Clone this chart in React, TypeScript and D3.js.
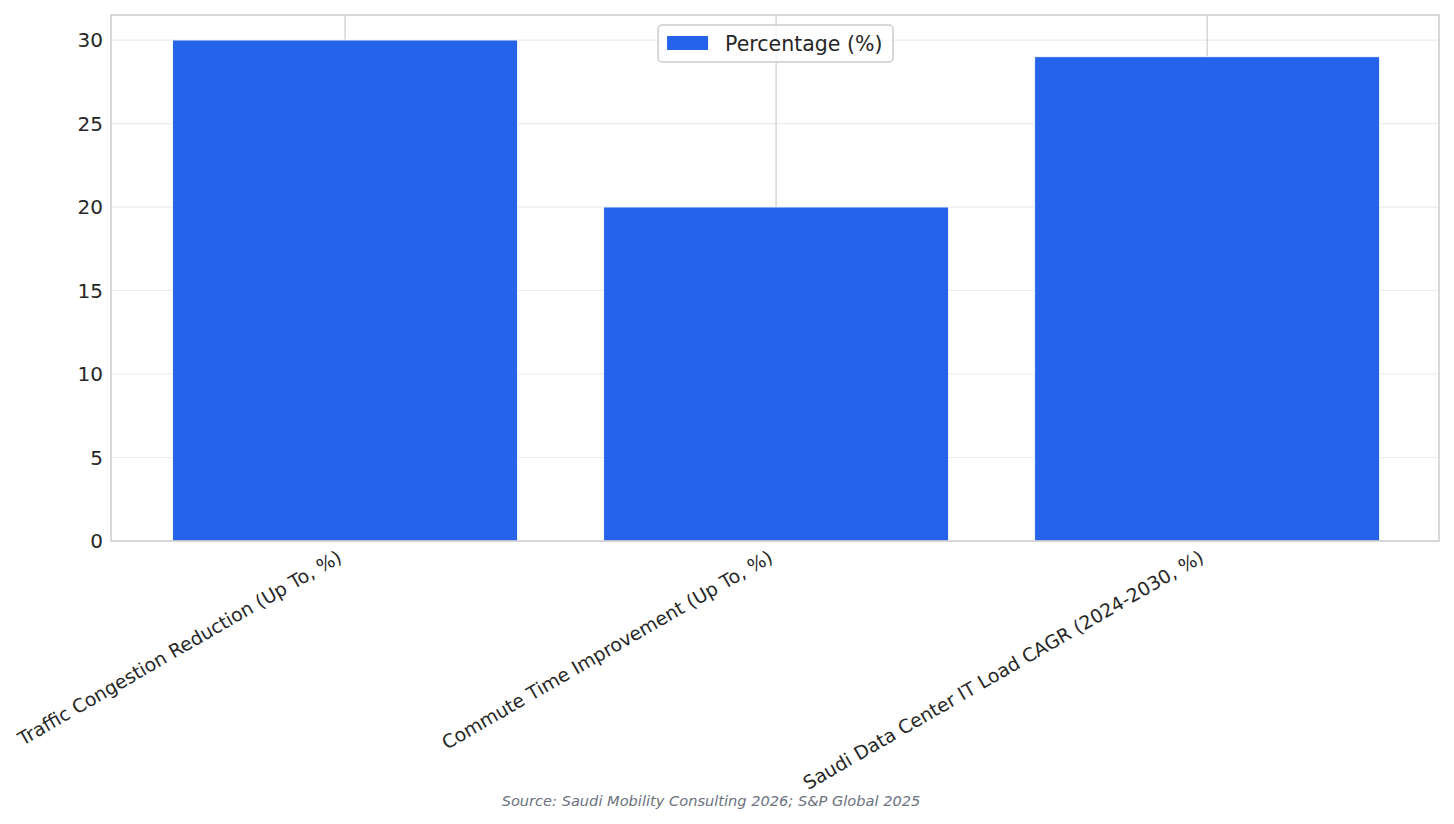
import React, { useEffect, useRef } from 'react';
import * as d3 from 'd3';

const categories = [
  'Traffic Congestion Reduction (Up To, %)',
  'Commute Time Improvement (Up To, %)',
  'Saudi Data Center IT Load CAGR (2024-2030, %)',
];
const values = [30, 20, 29];
const yTicks = [0, 5, 10, 15, 20, 25, 30];
const seriesName = 'Percentage (%)';
const sourceNote = 'Source: Saudi Mobility Consulting 2026; S&P Global 2025';

const W = 1454;
const H = 824;
const margin = { top: 15, right: 15, bottom: 283, left: 111 };
const font = 'DejaVu Sans, sans-serif';

const App = () => {
  const ref = useRef<SVGSVGElement>(null);

  useEffect(() => {
    const svg = d3.select(ref.current);
    svg.selectAll('*').remove();

    const width = W - margin.left - margin.right;
    const height = H - margin.top - margin.bottom;

    const x = d3.scaleLinear().domain([-0.543, categories.length - 1 + 0.538]).range([0, width]);
    const y = d3.scaleLinear().domain([0, 31.5]).range([height, 0]);
    const barW = x(0.4) - x(0);

    const g = svg.append('g').attr('transform', `translate(${margin.left},${margin.top})`);

    // horizontal grid
    g.selectAll('.hgrid')
      .data(yTicks)
      .enter()
      .append('line')
      .attr('x1', 0)
      .attr('x2', width)
      .attr('y1', (d) => y(d))
      .attr('y2', (d) => y(d))
      .attr('stroke', '#ebebeb')
      .attr('stroke-width', 1.2);

    // vertical grid at categories
    g.selectAll('.vgrid')
      .data(categories)
      .enter()
      .append('line')
      .attr('x1', (_d, i) => x(i))
      .attr('x2', (_d, i) => x(i))
      .attr('y1', 0)
      .attr('y2', height)
      .attr('stroke', '#cccccc')
      .attr('stroke-width', 1.2);

    g.selectAll('.bar')
      .data(values)
      .enter()
      .append('rect')
      .attr('x', (_d, i) => x(i) - barW)
      .attr('width', barW * 2)
      .attr('y', (d) => y(d))
      .attr('height', (d) => height - y(d))
      .attr('fill', '#2563eb')
      .attr('stroke', 'white')
      .attr('stroke-width', 0.8);

    // frame
    g.append('rect')
      .attr('x', 0)
      .attr('y', 0)
      .attr('width', width)
      .attr('height', height)
      .attr('fill', 'none')
      .attr('stroke', '#cccccc')
      .attr('stroke-width', 1.5);

    // y tick labels
    g.selectAll('.ytick')
      .data(yTicks)
      .enter()
      .append('text')
      .attr('x', -8)
      .attr('y', (d) => y(d))
      .attr('dy', '0.35em')
      .attr('text-anchor', 'end')
      .attr('font-family', font)
      .attr('font-size', 20)
      .attr('fill', '#262626')
      .text((d) => d);

    // x tick labels
    g.selectAll('.xtick')
      .data(categories)
      .enter()
      .append('text')
      .attr('transform', (_d, i) => `translate(${x(i) - 2},${height + 20}) rotate(-30)`)
      .attr('text-anchor', 'end')
      .attr('font-family', font)
      .attr('font-size', 18.8)
      .attr('fill', '#262626')
      .text((d) => d);

    // legend
    const lg = g.append('g').attr('transform', `translate(${x(1) - 118},10)`);
    lg.append('rect')
      .attr('width', 235)
      .attr('height', 37)
      .attr('rx', 4)
      .attr('fill', 'white')
      .attr('fill-opacity', 0.8)
      .attr('stroke', '#cccccc')
      .attr('stroke-width', 1.5);
    lg.append('rect').attr('x', 9).attr('y', 11).attr('width', 41).attr('height', 14).attr('fill', '#2563eb');
    lg.append('text')
      .attr('x', 67)
      .attr('y', 18.5)
      .attr('dy', '0.35em')
      .attr('font-family', font)
      .attr('font-size', 20.5)
      .attr('fill', '#262626')
      .text(seriesName);

    svg.append('text')
      .attr('x', 711)
      .attr('y', 806)
      .attr('text-anchor', 'middle')
      .attr('font-family', font)
      .attr('font-size', 14.6)
      .attr('font-style', 'italic')
      .attr('fill', '#6b7280')
      .text(sourceNote);
  }, []);

  return <svg ref={ref} width={W} height={H} style={{ display: 'block', position: 'absolute', left: 0, top: 0 }} />;
};

export default App;
